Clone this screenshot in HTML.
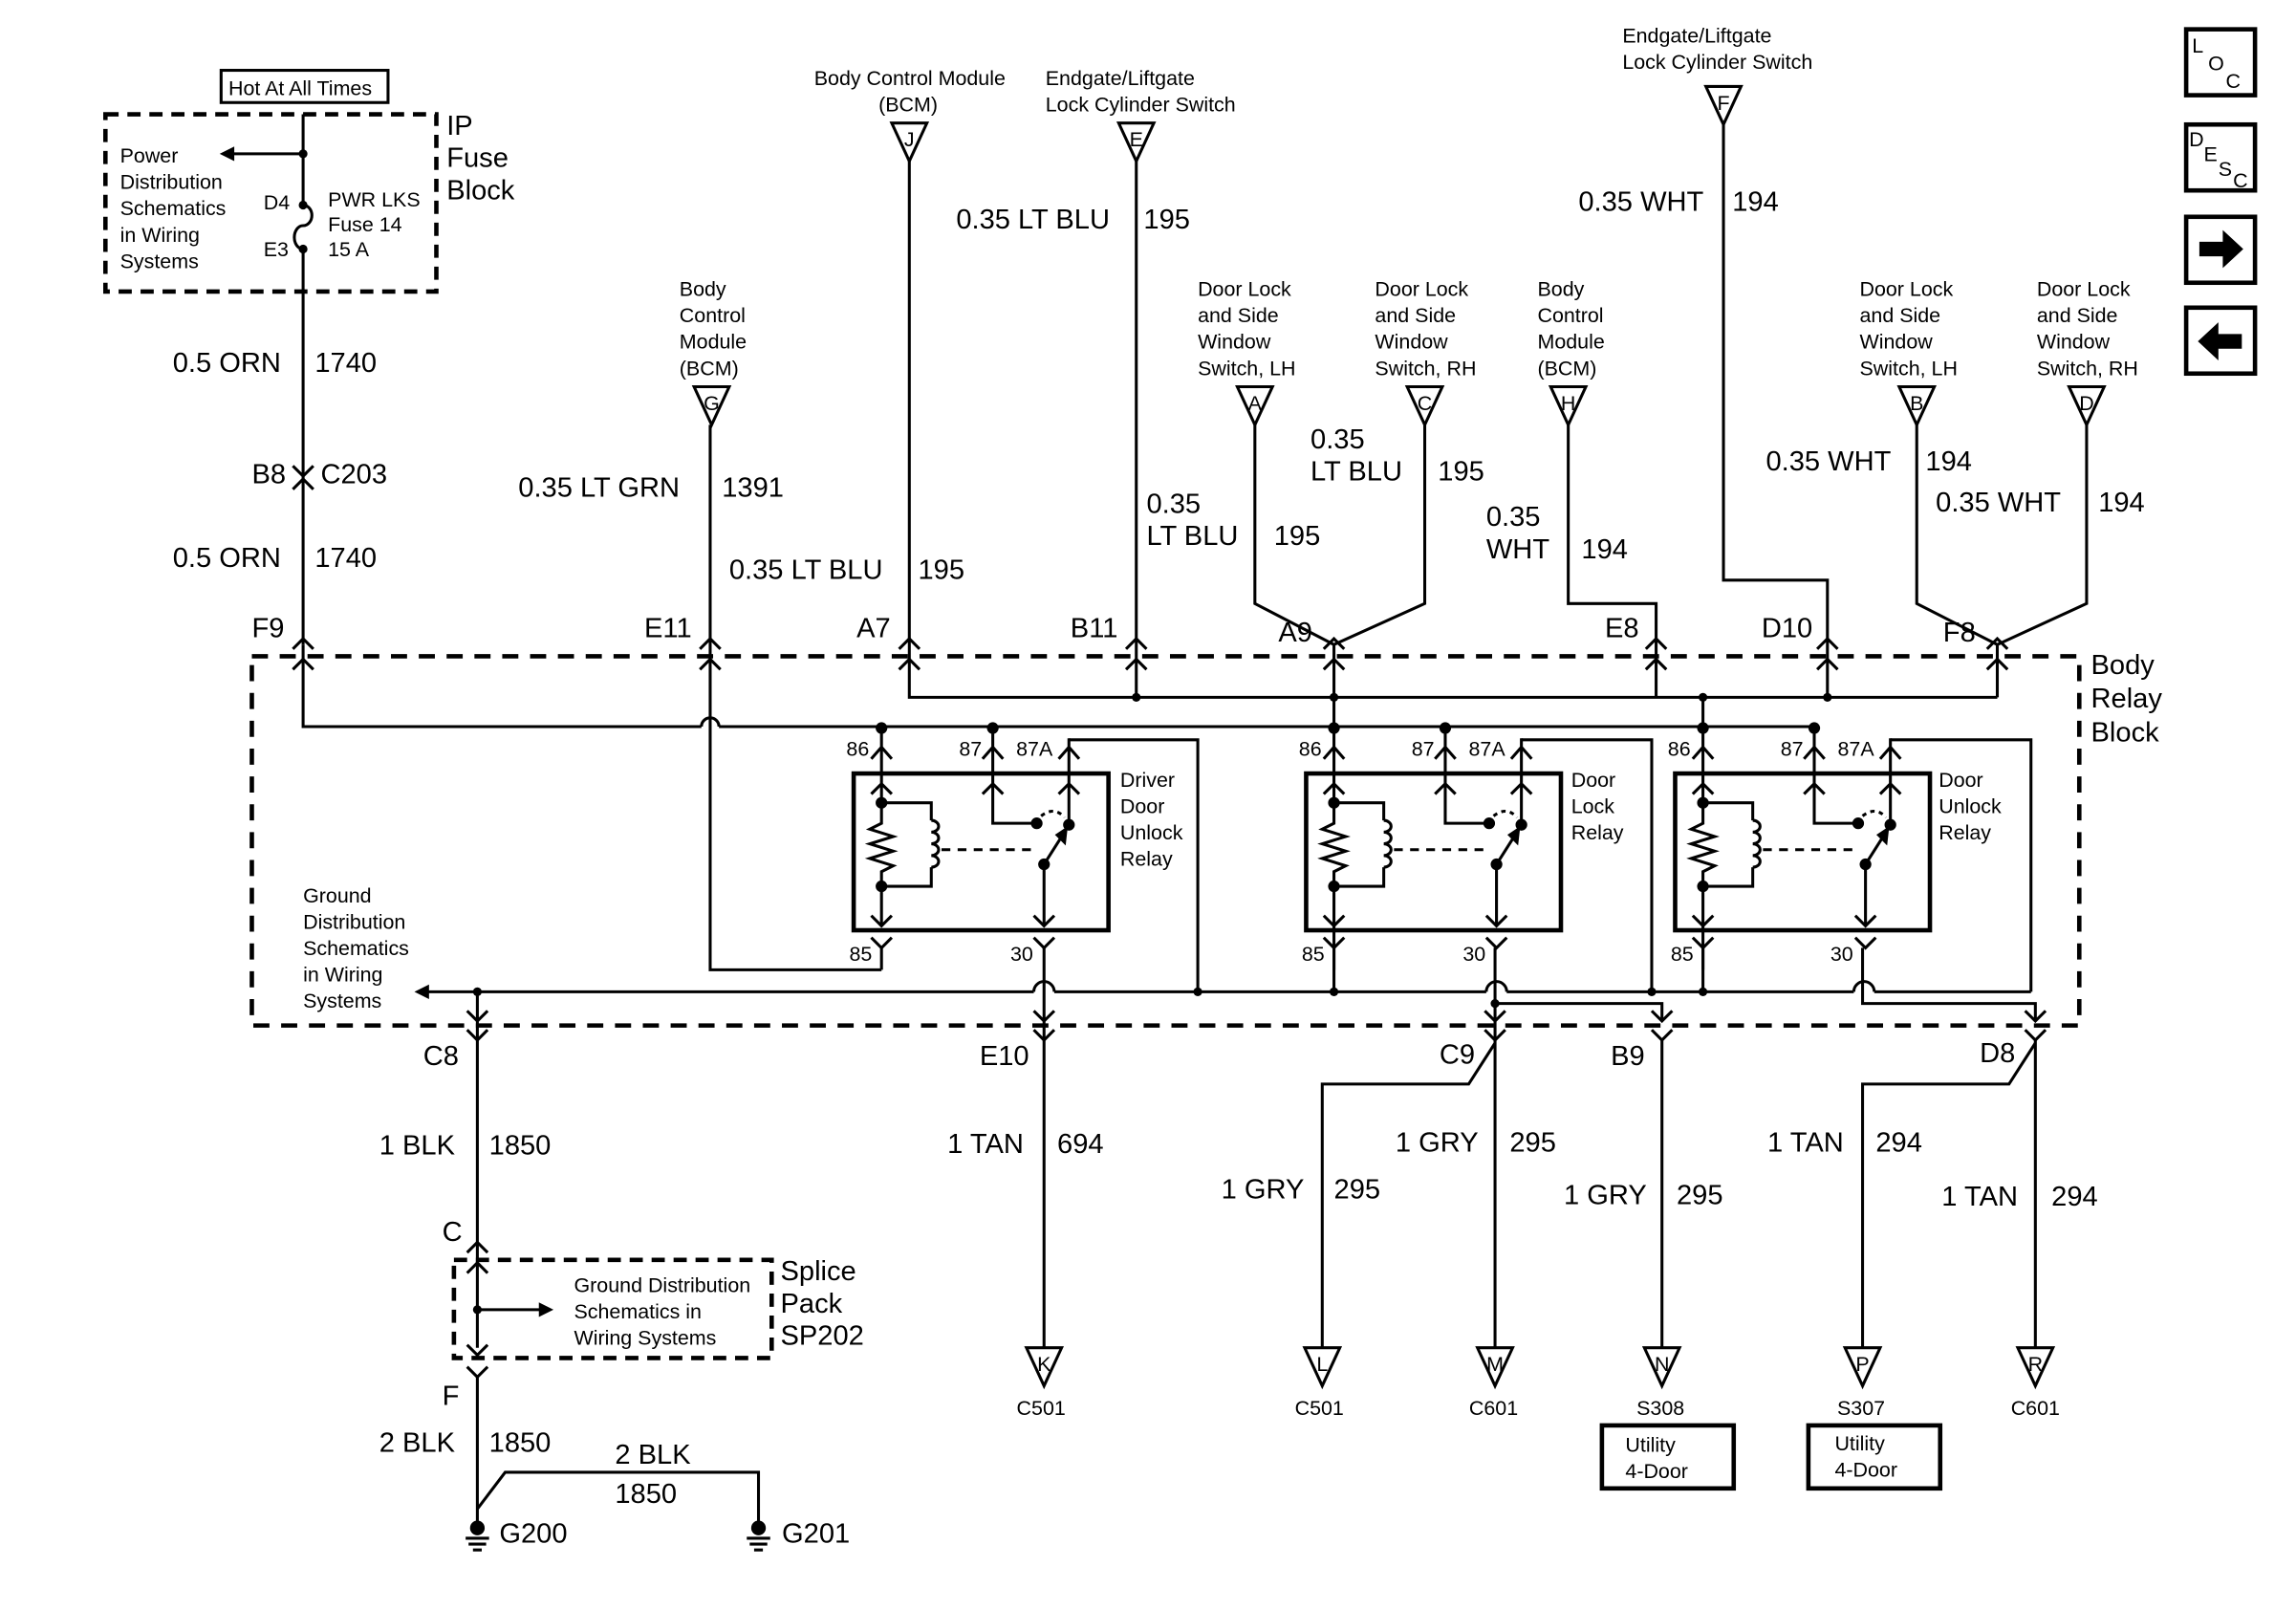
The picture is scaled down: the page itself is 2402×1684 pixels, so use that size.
<!DOCTYPE html>
<html><head><meta charset="utf-8"><style>
html,body{margin:0;padding:0;background:#fff}
svg{display:block}
text{font-family:"Liberation Sans",sans-serif;fill:#000}
.s{font-size:14px}.m{font-size:19px}.l{font-size:19px}
</style></head><body>
<svg width="2402" height="1684" viewBox="0 0 1568 1099" preserveAspectRatio="none" xmlns="http://www.w3.org/2000/svg">
<defs>
<g id="relay" fill="none" stroke="#000" stroke-width="2">
  <rect x="583" y="528" width="174" height="107" stroke-width="3"/>
  <path d="M602 497V545M595 518L602 510L609 518M595 542L602 535L609 542"/>
  <path d="M602 548H636V560M636 592V605H602M602 545V562L594 566L610 571L594 576L610 581L594 586L610 591L602 595V632M595 625L602 632L609 625"/>
  <path d="M636 560a5 4 0 0 1 0 8a5 4 0 0 1 0 8a5 4 0 0 1 0 8a5 4 0 0 1 0 8"/>
  <path d="M643 580H705" stroke-dasharray="6 5"/>
  <path d="M678 497V562H706M671 518L678 510L685 518M671 542L678 535L685 542"/>
  <path d="M730 504V563M723 518L730 510L737 518M723 542L730 535L737 542"/>
  <path d="M711 557Q720 550 727 558" stroke-dasharray="3 3"/>
  <path d="M713 590V632M706 625L713 632L720 625M713 590L727 568"/>
  <path d="M722 570L728 566L727 575Z" fill="#000"/>
  <path d="M595 640L602 647L609 640M602 647V662M706 640L713 647L720 640"/>
  <circle cx="602" cy="548" r="3" fill="#000"/><circle cx="602" cy="605" r="3" fill="#000"/>
  <circle cx="708" cy="562" r="3" fill="#000"/><circle cx="730" cy="563" r="3" fill="#000"/>
  <circle cx="713" cy="590" r="3" fill="#000"/>
  <circle cx="602" cy="497" r="3" fill="#000"/><circle cx="678" cy="497" r="3" fill="#000"/>
</g>
<path id="tri" d="M-12 0H12L0 26Z" fill="#fff" stroke="#000" stroke-width="2"/>
</defs>

<g fill="none" stroke="#000" stroke-width="3">
<rect x="1493" y="20" width="47" height="45"/><rect x="1493" y="85" width="47" height="45"/>
<rect x="1493" y="148" width="47" height="45"/><rect x="1493" y="210" width="47" height="45"/>
</g>
<text x="1497" y="36" class="s">L</text><text x="1508" y="48" class="s">O</text><text x="1520" y="60" class="s">C</text>
<text x="1495" y="100" class="s">D</text><text x="1505" y="110" class="s">E</text><text x="1515" y="120" class="s">S</text><text x="1525" y="128" class="s">C</text>
<path d="M1502 165h16v-8l14 13l-14 13v-8h-16z"/>
<path d="M1531 228h-16v-8l-14 13l14 13v-8h16z"/>

<rect x="151" y="48" width="114" height="22" fill="none" stroke="#000" stroke-width="2"/>
<text x="156" y="65" class="s">Hot At All Times</text>
<rect x="72" y="78" width="226" height="121" fill="none" stroke="#000" stroke-width="3" stroke-dasharray="9 6"/>
<text x="305" y="92" class="l">IP</text><text x="305" y="114" class="l">Fuse</text><text x="305" y="136" class="l">Block</text>
<g fill="none" stroke="#000" stroke-width="2">
<path d="M207 78V140M207 170V440M207 105H158"/>
<path d="M207 140a6 7 0 0 1 0 14a6 8 0 0 0 0 16"/>
<path d="M200 318L207 325L214 318M200 334L207 327L214 334"/>
</g>
<path d="M150 105L160 100V110Z"/>
<circle cx="207" cy="105" r="3"/><circle cx="207" cy="140" r="3"/><circle cx="207" cy="170" r="3"/>
<text x="82" y="111" class="s">Power</text><text x="82" y="129" class="s">Distribution</text><text x="82" y="147" class="s">Schematics</text><text x="82" y="165" class="s">in Wiring</text><text x="82" y="183" class="s">Systems</text>
<text x="180" y="143" class="s">D4</text><text x="180" y="175" class="s">E3</text>
<text x="224" y="141" class="s">PWR LKS</text><text x="224" y="158" class="s">Fuse 14</text><text x="224" y="175" class="s">15 A</text>
<text x="118" y="254" class="m">0.5 ORN</text><text x="215" y="254" class="m">1740</text>
<text x="172" y="330" class="m">B8</text><text x="219" y="330" class="m">C203</text>
<text x="118" y="387" class="m">0.5 ORN</text><text x="215" y="387" class="m">1740</text>

<rect x="172" y="448" width="1248" height="252" fill="none" stroke="#000" stroke-width="3" stroke-dasharray="11 8"/>
<text x="1428" y="460" class="l">Body</text><text x="1428" y="483" class="l">Relay</text><text x="1428" y="506" class="l">Block</text>

<g fill="none" stroke="#000" stroke-width="2">
<path d="M207 440V496H479M491 496H1239"/>
<path d="M479 496a6 6 0 0 1 12 0"/>
<path d="M485 290V662H602"/>
<path d="M621 110V476H1364"/>
<path d="M776 110V476"/>
<path d="M857 290V412L911 440M973 290V412L911 440M911 440V496"/>
<path d="M1071 290V412H1131V476"/>
<path d="M1177 85V396H1248V476"/>
<path d="M1309 290V412L1364 440M1425 290V412L1364 440M1364 440V476"/>
<path d="M1163 476V497"/>
<path d="M200 443L207 436L214 443M200 457L207 450L214 457"/>
<path d="M478 443L485 436L492 443M478 457L485 450L492 457"/>
<path d="M614 443L621 436L628 443M614 457L621 450L628 457"/>
<path d="M769 443L776 436L783 443M769 457L776 450L783 457"/>
<path d="M904 443L911 436L918 443M904 457L911 450L918 457"/>
<path d="M1124 443L1131 436L1138 443M1124 457L1131 450L1138 457"/>
<path d="M1241 443L1248 436L1255 443M1241 457L1248 450L1255 457"/>
<path d="M1357 443L1364 436L1371 443M1357 457L1364 450L1371 457"/>
<path d="M730 505H818V677"/>
<path d="M1039 505H1128V677"/>
<path d="M1291 505H1387V677"/>
<path d="M290 677H706M720 677H1015M1029 677H1266M1280 677H1387"/>
<path d="M706 677a7 7 0 0 1 14 0M1015 677a7 7 0 0 1 14 0M1266 677a7 7 0 0 1 14 0"/>
<path d="M911 632V677M1163 632V677"/>
<path d="M713 647V920M706 690L713 697L720 690"/>
<path d="M1021 647V920M1014 690L1021 697L1028 690M1021 685H1135V697M1128 690L1135 697L1142 690"/>
<path d="M1272 647V685H1390V697M1383 690L1390 697L1397 690"/>
<path d="M326 677V920M319 690L326 697L333 690"/>
<path d="M319 703L326 710L333 703M706 703L713 710L720 703M1014 703L1021 710L1028 703M1128 703L1135 710L1142 703M1383 703L1390 710L1397 703"/>
<path d="M1135 710V920M1390 710V920"/>
<path d="M1021 712L1003 740H903V920M1390 712L1372 740H1272V920"/>
</g>
<path d="M283 677L293 672V682Z"/>
<circle cx="326" cy="677" r="3"/><circle cx="818" cy="677" r="3"/><circle cx="911" cy="677" r="3"/><circle cx="1128" cy="677" r="3"/><circle cx="1163" cy="677" r="3"/>
<circle cx="911" cy="476" r="3"/><circle cx="776" cy="476" r="3"/><circle cx="1163" cy="476" r="3"/><circle cx="1248" cy="476" r="3"/><circle cx="1163" cy="496" r="3"/><circle cx="911" cy="496" r="3"/>
<circle cx="1021" cy="685" r="3"/>

<use href="#relay"/>
<use href="#relay" transform="translate(309,0)"/>
<use href="#relay" transform="translate(561,0)"/>
<g class="s">
<text x="578" y="516">86</text><text x="655" y="516">87</text><text x="694" y="516">87A</text><text x="580" y="656">85</text><text x="690" y="656">30</text>
<text x="887" y="516">86</text><text x="964" y="516">87</text><text x="1003" y="516">87A</text><text x="889" y="656">85</text><text x="999" y="656">30</text>
<text x="1139" y="516">86</text><text x="1216" y="516">87</text><text x="1255" y="516">87A</text><text x="1141" y="656">85</text><text x="1250" y="656">30</text>
<text x="765" y="537">Driver</text><text x="765" y="555">Door</text><text x="765" y="573">Unlock</text><text x="765" y="591">Relay</text>
<text x="1073" y="537">Door</text><text x="1073" y="555">Lock</text><text x="1073" y="573">Relay</text>
<text x="1324" y="537">Door</text><text x="1324" y="555">Unlock</text><text x="1324" y="573">Relay</text>
<text x="207" y="616">Ground</text><text x="207" y="634">Distribution</text><text x="207" y="652">Schematics</text><text x="207" y="670">in Wiring</text><text x="207" y="688">Systems</text>
</g>

<g class="s">
<text x="556" y="58">Body Control Module</text><text x="600" y="76">(BCM)</text>
<text x="714" y="58">Endgate/Liftgate</text><text x="714" y="76">Lock Cylinder Switch</text>
<text x="1108" y="29">Endgate/Liftgate</text><text x="1108" y="47">Lock Cylinder Switch</text>
<text x="464" y="202">Body</text><text x="464" y="220">Control</text><text x="464" y="238">Module</text><text x="464" y="256">(BCM)</text>
<text x="1050" y="202">Body</text><text x="1050" y="220">Control</text><text x="1050" y="238">Module</text><text x="1050" y="256">(BCM)</text>
<text x="818" y="202">Door Lock</text><text x="818" y="220">and Side</text><text x="818" y="238">Window</text><text x="818" y="256">Switch, LH</text>
<text x="939" y="202">Door Lock</text><text x="939" y="220">and Side</text><text x="939" y="238">Window</text><text x="939" y="256">Switch, RH</text>
<text x="1270" y="202">Door Lock</text><text x="1270" y="220">and Side</text><text x="1270" y="238">Window</text><text x="1270" y="256">Switch, LH</text>
<text x="1391" y="202">Door Lock</text><text x="1391" y="220">and Side</text><text x="1391" y="238">Window</text><text x="1391" y="256">Switch, RH</text>
</g>
<use href="#tri" x="621" y="84"/><use href="#tri" x="776" y="84"/><use href="#tri" x="1177" y="59"/>
<use href="#tri" x="486" y="264"/><use href="#tri" x="857" y="264"/><use href="#tri" x="973" y="264"/>
<use href="#tri" x="1071" y="264"/><use href="#tri" x="1309" y="264"/><use href="#tri" x="1425" y="264"/>
<g class="s" text-anchor="middle">
<text x="621" y="100">J</text><text x="776" y="100">E</text><text x="1177" y="75">F</text>
<text x="486" y="280">G</text><text x="857" y="280">A</text><text x="973" y="280">C</text>
<text x="1071" y="280">H</text><text x="1309" y="280">B</text><text x="1425" y="280">D</text>
</g>
<g class="m">
<text x="653" y="156">0.35 LT BLU</text><text x="781" y="156">195</text>
<text x="1078" y="144">0.35 WHT</text><text x="1183" y="144">194</text>
<text x="354" y="339">0.35 LT GRN</text><text x="493" y="339">1391</text>
<text x="498" y="395">0.35 LT BLU</text><text x="627" y="395">195</text>
<text x="895" y="306">0.35</text><text x="895" y="328">LT BLU</text><text x="982" y="328">195</text>
<text x="783" y="350">0.35</text><text x="783" y="372">LT BLU</text><text x="870" y="372">195</text>
<text x="1015" y="359">0.35</text><text x="1015" y="381">WHT</text><text x="1080" y="381">194</text>
<text x="1206" y="321">0.35 WHT</text><text x="1315" y="321">194</text>
<text x="1322" y="349">0.35 WHT</text><text x="1433" y="349">194</text>
<text x="172" y="435">F9</text><text x="440" y="435">E11</text><text x="585" y="435">A7</text><text x="731" y="435">B11</text>
<text x="873" y="438">A9</text><text x="1096" y="435">E8</text><text x="1203" y="435">D10</text><text x="1327" y="438">F8</text>
<text x="289" y="727">C8</text><text x="669" y="727">E10</text><text x="983" y="726">C9</text><text x="1100" y="727">B9</text><text x="1352" y="725">D8</text>
<text x="259" y="788">1 BLK</text><text x="334" y="788">1850</text>
<text x="647" y="787">1 TAN</text><text x="722" y="787">694</text>
<text x="953" y="786">1 GRY</text><text x="1031" y="786">295</text>
<text x="834" y="818">1 GRY</text><text x="911" y="818">295</text>
<text x="1068" y="822">1 GRY</text><text x="1145" y="822">295</text>
<text x="1207" y="786">1 TAN</text><text x="1281" y="786">294</text>
<text x="1326" y="823">1 TAN</text><text x="1401" y="823">294</text>
<text x="302" y="847">C</text><text x="302" y="959">F</text>
<text x="533" y="874">Splice</text><text x="533" y="896">Pack</text><text x="533" y="918">SP202</text>
<text x="259" y="991">2 BLK</text><text x="334" y="991">1850</text>
<text x="420" y="999">2 BLK</text><text x="420" y="1026">1850</text>
<text x="341" y="1053">G200</text><text x="534" y="1053">G201</text>
</g>

<rect x="310" y="860" width="217" height="67" fill="none" stroke="#000" stroke-width="3" stroke-dasharray="9 6"/>
<g fill="none" stroke="#000" stroke-width="2">
<path d="M319 855L326 848L333 855M319 869L326 862L333 869"/>
<path d="M319 918L326 925L333 918M319 933L326 940L333 933"/>
<path d="M326 940V1043M326 1030L345 1005H518V1043M326 894H370"/>
<path d="M318 1050h16M320 1054h12M323 1058h6M510 1050h16M512 1054h12M515 1058h6"/>
</g>
<path d="M378 894L368 889V899Z"/>
<circle cx="326" cy="894" r="3"/>
<circle cx="326" cy="1043" r="5"/><circle cx="518" cy="1043" r="5"/>
<g class="s"><text x="392" y="882">Ground Distribution</text><text x="392" y="900">Schematics in</text><text x="392" y="918">Wiring Systems</text></g>

<use href="#tri" x="713" y="920"/><use href="#tri" x="903" y="920"/><use href="#tri" x="1021" y="920"/>
<use href="#tri" x="1135" y="920"/><use href="#tri" x="1272" y="920"/><use href="#tri" x="1390" y="920"/>
<g class="s" text-anchor="middle">
<text x="713" y="936">K</text><text x="903" y="936">L</text><text x="1021" y="936">M</text>
<text x="1135" y="936">N</text><text x="1272" y="936">P</text><text x="1390" y="936">R</text>
<text x="711" y="966">C501</text><text x="901" y="966">C501</text><text x="1020" y="966">C601</text>
<text x="1134" y="966">S308</text><text x="1271" y="966">S307</text><text x="1390" y="966">C601</text>
</g>
<rect x="1094" y="973" width="90" height="43" fill="none" stroke="#000" stroke-width="3"/>
<rect x="1235" y="973" width="90" height="43" fill="none" stroke="#000" stroke-width="3"/>
<g class="s"><text x="1110" y="991">Utility</text><text x="1110" y="1009">4-Door</text>
<text x="1253" y="990">Utility</text><text x="1253" y="1008">4-Door</text></g>
</svg>
</body></html>
